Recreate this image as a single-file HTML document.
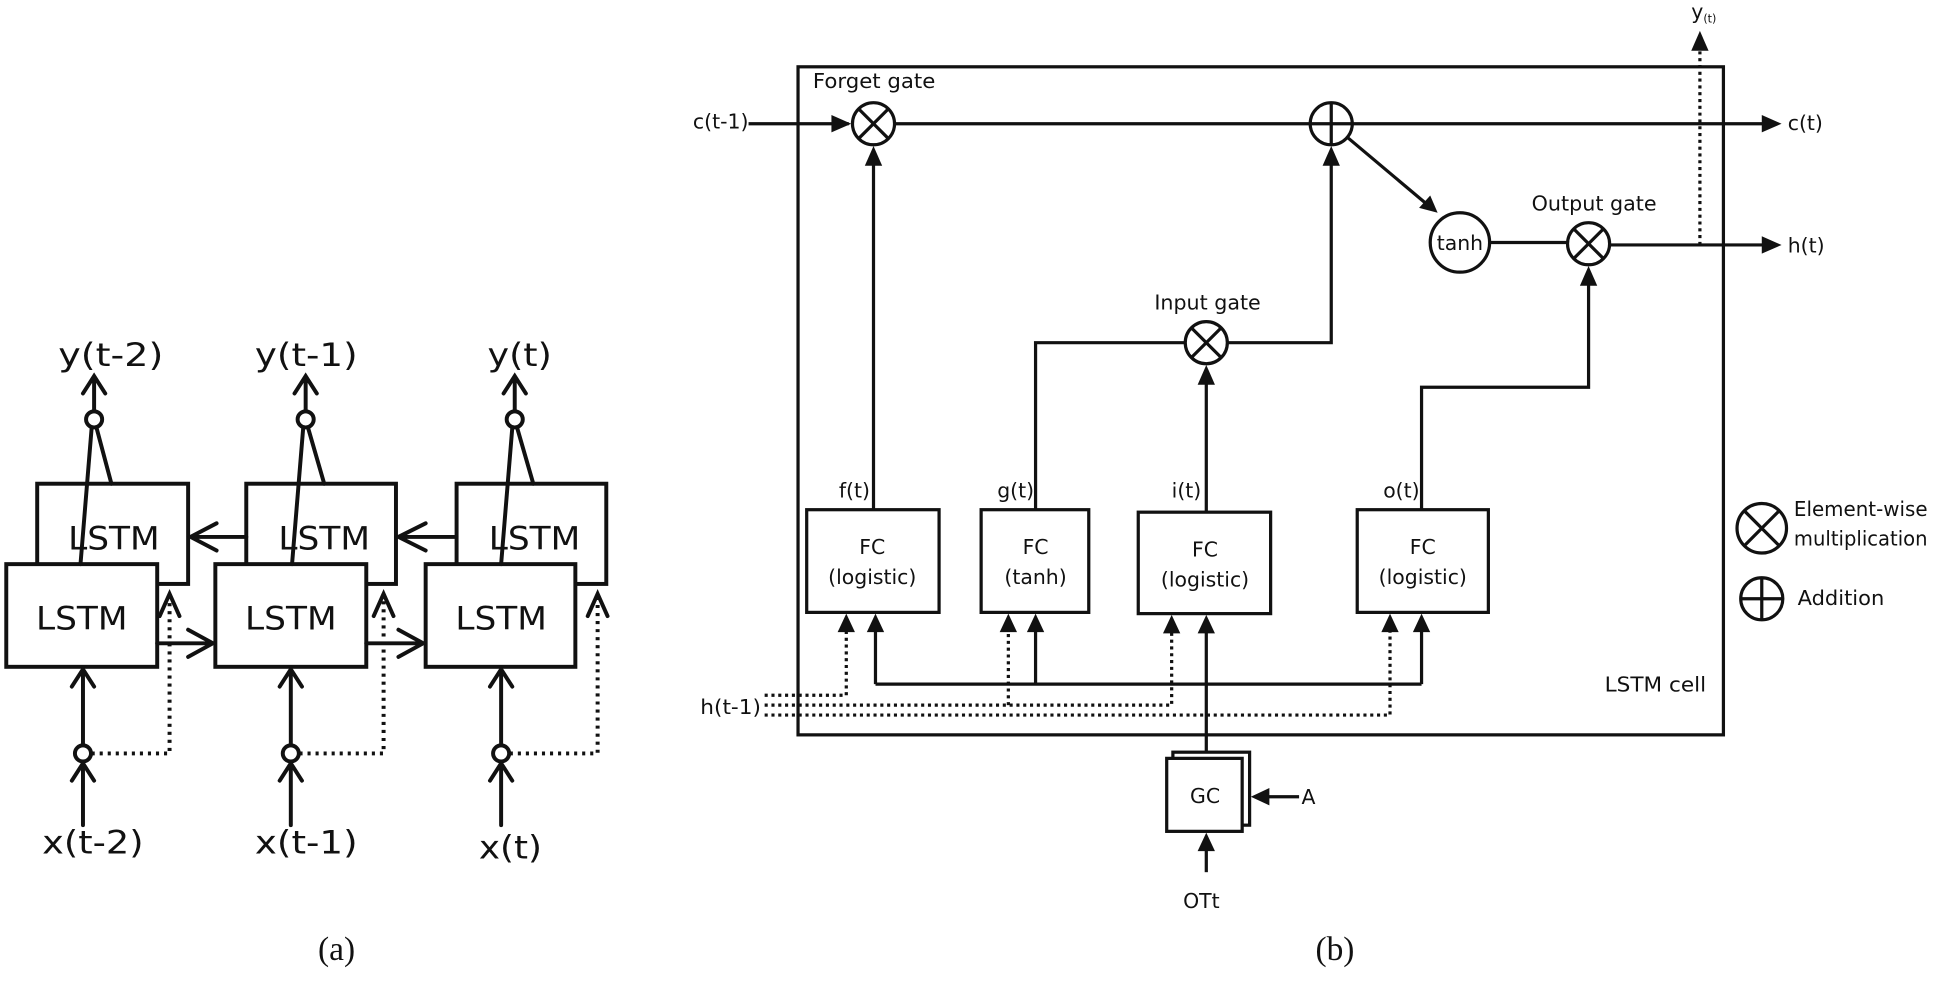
<!DOCTYPE html>
<html><head><meta charset="utf-8"><style>
html,body{margin:0;padding:0;background:#fff;}
svg{display:block;}
text{font-family:"DejaVu Sans","Liberation Sans",sans-serif;fill:#111;}
</style></head><body>
<svg width="1940" height="986" viewBox="0 0 1568 797" xmlns="http://www.w3.org/2000/svg">
<rect width="1568" height="797" fill="#fff"/>

<!-- ========== Panel (a) ========== -->
<g stroke="#111" stroke-width="3.2" fill="none">
  <rect x="30" y="391" width="122" height="81" fill="#fff"/>
  <rect x="199" y="391" width="121" height="81" fill="#fff"/>
  <rect x="369" y="391" width="121" height="81" fill="#fff"/>
</g>
<g font-size="26" text-anchor="middle">
  <text x="92" y="444" textLength="74" lengthAdjust="spacingAndGlyphs">LSTM</text>
  <text x="262" y="444" textLength="74" lengthAdjust="spacingAndGlyphs">LSTM</text>
  <text x="432" y="444" textLength="74" lengthAdjust="spacingAndGlyphs">LSTM</text>
</g>
<g stroke="#111" stroke-width="3.2" fill="none">
  <rect x="5" y="456" width="122" height="83" fill="#fff"/>
  <rect x="174" y="456" width="122" height="83" fill="#fff"/>
  <rect x="344" y="456" width="121" height="83" fill="#fff"/>
</g>
<g font-size="26" text-anchor="middle">
  <text x="66" y="509" textLength="74" lengthAdjust="spacingAndGlyphs">LSTM</text>
  <text x="235" y="509" textLength="74" lengthAdjust="spacingAndGlyphs">LSTM</text>
  <text x="405" y="509" textLength="74" lengthAdjust="spacingAndGlyphs">LSTM</text>
</g>
<g stroke="#111" stroke-width="3.2" fill="none" stroke-linecap="round">
  <circle cx="76" cy="339" r="6.5" fill="#fff"/>
  <circle cx="247" cy="339" r="6.5" fill="#fff"/>
  <circle cx="416" cy="339" r="6.5" fill="#fff"/>
  <path d="M74 346 L65 456 M78 346 L90 391"/>
  <path d="M245 346 L236 456 M249 346 L262 391"/>
  <path d="M414 346 L405 456 M418 346 L431 391"/>
  <path d="M76 332 V305 M67 318 L76 304 L85 318"/>
  <path d="M247 332 V305 M238 318 L247 304 L256 318"/>
  <path d="M416 332 V305 M407 318 L416 304 L425 318"/>
  <path d="M199 434 H154 M175 423 L154 434 L175 445"/>
  <path d="M369 434 H322 M344 423 L322 434 L344 445"/>
  <path d="M127 520 H172 M152 509 L172 520 L152 531"/>
  <path d="M296 520 H342 M322 509 L342 520 L322 531"/>
  <circle cx="67" cy="609" r="6.5" fill="#fff"/>
  <circle cx="235" cy="609" r="6.5" fill="#fff"/>
  <circle cx="405" cy="609" r="6.5" fill="#fff"/>
  <path d="M67 667 V617 M58 631 L67 617 L76 631"/>
  <path d="M235 667 V617 M226 631 L235 617 L244 631"/>
  <path d="M405 667 V617 M396 631 L405 617 L414 631"/>
  <path d="M67 602 V541 M58 555 L67 541 L76 555"/>
  <path d="M235 602 V541 M226 555 L235 541 L244 555"/>
  <path d="M405 602 V541 M396 555 L405 541 L414 555"/>
  <path d="M129 498 L137 480 L145 498"/>
  <path d="M302 498 L310 480 L318 498"/>
  <path d="M475 498 L483 480 L491 498"/>
</g>
<g stroke="#111" stroke-width="3.2" fill="none" stroke-dasharray="2.5 4">
  <path d="M74 609 H137 V484"/>
  <path d="M242 609 H310 V484"/>
  <path d="M412 609 H483 V484"/>
</g>
<g font-size="26">
  <text x="47" y="296" textLength="85" lengthAdjust="spacingAndGlyphs">y(t-2)</text>
  <text x="206" y="296" textLength="83" lengthAdjust="spacingAndGlyphs">y(t-1)</text>
  <text x="394" y="296" textLength="52" lengthAdjust="spacingAndGlyphs">y(t)</text>
  <text x="34" y="690" textLength="82" lengthAdjust="spacingAndGlyphs">x(t-2)</text>
  <text x="206" y="690" textLength="83" lengthAdjust="spacingAndGlyphs">x(t-1)</text>
  <text x="387" y="694" textLength="51" lengthAdjust="spacingAndGlyphs">x(t)</text>
</g>
<text x="272" y="776" font-size="27" text-anchor="middle" style="font-family:'Liberation Serif',serif">(a)</text>

<!-- ========== Panel (b) ========== -->
<g stroke="#111" stroke-width="2.6" fill="none">
  <rect x="645" y="54" width="748" height="540"/>
  <path d="M605 100 H686"/>
  <path d="M723 100 H1059 M1093 100 H1428"/>
  <path d="M1089 111 L1152 164"/>
  <path d="M1204 196 H1267"/>
  <path d="M1301 198 H1428"/>
  <path d="M706 412 V130"/>
  <path d="M992 277 H1076 V130"/>
  <path d="M837 412 V277 H958"/>
  <path d="M975 414 V307"/>
  <path d="M1149 412 V313 H1284 V227"/>
  <rect x="652" y="412" width="107" height="83" fill="#fff"/>
  <rect x="793" y="412" width="87" height="83" fill="#fff"/>
  <rect x="920" y="414" width="107" height="82" fill="#fff"/>
  <rect x="1097" y="412" width="106" height="83" fill="#fff"/>
  <path d="M707.6 553 H1149 M707.6 553 V508 M837 553 V508 M1149 553 V508"/>
  <path d="M975 608 V509"/>
  <rect x="948" y="608" width="62" height="59" fill="#fff"/>
  <rect x="943" y="613" width="61" height="59" fill="#fff"/>
  <path d="M1050 644 H1024"/>
  <path d="M975 705 V686"/>
</g>
<g stroke="#111" stroke-width="2.6" fill="none" stroke-dasharray="2.5 3">
  <path d="M1374 198 V38"/>
  <path d="M618 562 H684 V508"/>
  <path d="M618 570 H947 V508 M815 570 V508"/>
  <path d="M618 578 H1123.5 V508"/>
</g>
<g fill="#111">
  <polygon points="688,100 672,93 672,107"/>
  <polygon points="1440,100 1424,93 1424,107"/>
  <polygon points="1440,198 1424,191 1424,205"/>
  <polygon points="1162,172 1147,168 1156,158"/>
  <polygon points="706,118 699,134 713,134"/>
  <polygon points="1076,118 1069,134 1083,134"/>
  <polygon points="975,295 968,311 982,311"/>
  <polygon points="1284,215 1277,231 1291,231"/>
  <polygon points="1374,25 1367,41 1381,41"/>
  <polygon points="707.6,496 700.6,511 714.6,511"/>
  <polygon points="684,496 677,511 691,511"/>
  <polygon points="837,496 830,511 844,511"/>
  <polygon points="815,496 808,511 822,511"/>
  <polygon points="975,497 968,512 982,512"/>
  <polygon points="947,497 940,512 954,512"/>
  <polygon points="1149,496 1142,511 1156,511"/>
  <polygon points="1123.5,496 1116.5,511 1130.5,511"/>
  <polygon points="1011,644 1026,637 1026,651"/>
  <polygon points="975,673 968,688 982,688"/>
</g>
<g stroke="#111" stroke-width="2.6" fill="#fff">
  <circle cx="706" cy="100" r="17"/>
  <circle cx="1076" cy="100" r="17"/>
  <circle cx="975" cy="277" r="17"/>
  <circle cx="1284" cy="197" r="17"/>
  <circle cx="1180" cy="196" r="24"/>
  <circle cx="1424" cy="427" r="20"/>
  <circle cx="1424" cy="484" r="17"/>
</g>
<g stroke="#111" stroke-width="2.6">
  <path d="M694 88 L718 112 M718 88 L694 112"/>
  <path d="M963 265 L987 289 M987 265 L963 289"/>
  <path d="M1272 185 L1296 209 M1296 185 L1272 209"/>
  <path d="M1076 83 V117 M1059 100 H1093"/>
  <path d="M1410 413 L1438 441 M1438 413 L1410 441"/>
  <path d="M1424 467 V501 M1407 484 H1441"/>
</g>
<g font-size="16.5">
  <text x="657" y="71" textLength="99" lengthAdjust="spacingAndGlyphs">Forget gate</text>
  <text x="560" y="104" textLength="45" lengthAdjust="spacingAndGlyphs">c(t-1)</text>
  <text x="1445" y="105">c(t)</text>
  <text x="1445" y="204">h(t)</text>
  <text x="1238" y="170" textLength="101" lengthAdjust="spacingAndGlyphs">Output gate</text>
  <text x="1180" y="202" text-anchor="middle">tanh</text>
  <text x="933" y="250" textLength="86" lengthAdjust="spacingAndGlyphs">Input gate</text>
  <text x="1367" y="15">y<tspan font-size="9" dy="3">(t)</tspan></text>
  <text x="678" y="402">f(t)</text>
  <text x="806" y="402">g(t)</text>
  <text x="947" y="402">i(t)</text>
  <text x="1118" y="402">o(t)</text>
  <g text-anchor="middle">
    <text x="705" y="448">FC</text><text x="705" y="472">(logistic)</text>
    <text x="837" y="448">FC</text><text x="837" y="472">(tanh)</text>
    <text x="974" y="450">FC</text><text x="974" y="474">(logistic)</text>
    <text x="1150" y="448">FC</text><text x="1150" y="472">(logistic)</text>
    <text x="974" y="649">GC</text>
    <text x="971" y="734">OTt</text>
  </g>
  <text x="1052" y="650">A</text>
  <text x="566" y="577" textLength="49" lengthAdjust="spacingAndGlyphs">h(t-1)</text>
  <text x="1297" y="559" textLength="82" lengthAdjust="spacingAndGlyphs">LSTM cell</text>
  <text x="1450" y="417" textLength="108" lengthAdjust="spacingAndGlyphs">Element-wise</text>
  <text x="1450" y="441" textLength="108" lengthAdjust="spacingAndGlyphs">multiplication</text>
  <text x="1453" y="489" textLength="70" lengthAdjust="spacingAndGlyphs">Addition</text>
</g>
<text x="1079" y="776" font-size="27" text-anchor="middle" style="font-family:'Liberation Serif',serif">(b)</text>
</svg>
</body></html>
